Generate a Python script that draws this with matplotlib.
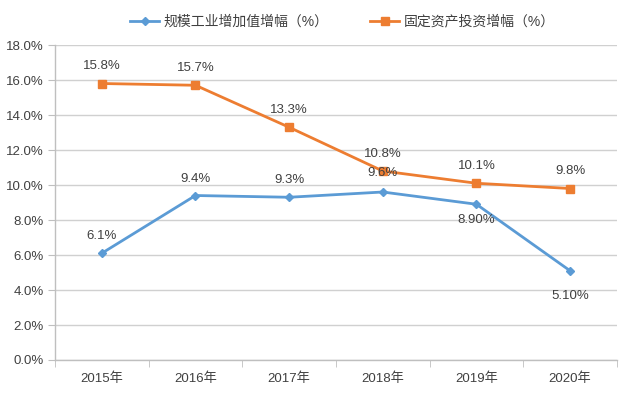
import matplotlib
matplotlib.use("Agg")
import matplotlib.pyplot as plt
from matplotlib.ticker import FuncFormatter, MultipleLocator

plt.rcParams['font.family'] = ['Liberation Sans', 'Noto Sans CJK SC', 'DejaVu Sans']

years = ["2015年", "2016年", "2017年", "2018年", "2019年", "2020年"]
industry = [6.1, 9.4, 9.3, 9.6, 8.9, 5.1]
industry_labels = ["6.1%", "9.4%", "9.3%", "9.6%", "8.90%", "5.10%"]
investment = [15.8, 15.7, 13.3, 10.8, 10.1, 9.8]
investment_labels = ["15.8%", "15.7%", "13.3%", "10.8%", "10.1%", "9.8%"]
series_names = ["规模工业增加值增幅（%）", "固定资产投资增幅（%）"]

blue = "#5B9BD5"
orange = "#ED7D31"
grid_c = "#D0D0D0"
text_c = "#404040"

fig = plt.figure(figsize=(6.4, 4.03), dpi=100)
ax = fig.add_axes([0.0859, 0.1067, 0.878, 0.7816])

x = list(range(len(years)))
ax.plot(x, industry, color=blue, lw=2, marker="D", ms=4, label=series_names[0], zorder=3)
ax.plot(x, investment, color=orange, lw=2, marker="s", ms=6, label=series_names[1], zorder=3)

px = 0.72
industry_off = [17, 17, 17, 19, -16, -25]
for xi, v, lab, off in zip(x, industry, industry_labels, industry_off):
    ax.annotate(lab, (xi, v), xytext=(0, off * px), textcoords="offset points",
                ha="center", va="center", fontsize=9.5, color=text_c, zorder=4)
for xi, v, lab in zip(x, investment, investment_labels):
    ax.annotate(lab, (xi, v), xytext=(0, 17.5 * px), textcoords="offset points",
                ha="center", va="center", fontsize=9.5, color=text_c, zorder=4)

ax.set_xlim(-0.5, len(years) - 0.5)
ax.set_ylim(0, 18)
ax.yaxis.set_major_locator(MultipleLocator(2))
ax.yaxis.set_major_formatter(FuncFormatter(lambda v, p: f"{v:.1f}%"))
ax.set_xticks(x)
ax.set_xticklabels(years)
ax.set_xticks([i + 0.5 for i in range(-1, len(years))], minor=True)

ax.grid(axis="y", color=grid_c, lw=1)
ax.set_axisbelow(True)
for s in ["top", "right"]:
    ax.spines[s].set_visible(False)
for s in ["left", "bottom"]:
    ax.spines[s].set_color("#BFBFBF")
    ax.spines[s].set_linewidth(1)

ax.tick_params(axis="y", length=5, color="#BFBFBF", labelsize=9.5, labelcolor=text_c, pad=3)
ax.tick_params(axis="x", which="major", length=0, labelsize=9.5, labelcolor=text_c, pad=9)
ax.tick_params(axis="x", which="minor", length=5, color="#BFBFBF")

leg = fig.legend(loc="upper center", bbox_to_anchor=(0.535, 0.995), ncol=2, frameon=False,
                 fontsize=10, handlelength=2.1, columnspacing=3.0, labelcolor=text_c,
                 handletextpad=0.3)

fig.savefig("out.png", dpi=100)
